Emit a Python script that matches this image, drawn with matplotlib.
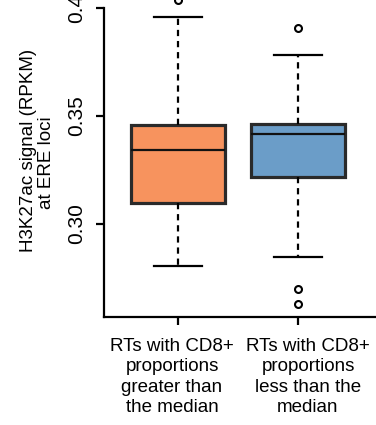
import matplotlib
matplotlib.use("Agg")
from matplotlib import pyplot as plt
from matplotlib.ticker import FixedLocator, FixedFormatter
from matplotlib.transforms import ScaledTranslation

plt.rcParams['font.family'] = ['Liberation Sans', 'DejaVu Sans']
plt.rcParams['lines.scale_dashes'] = False

groups = ["RTs with CD8+\nproportions\ngreater than\nthe median",
          "RTs with CD8+\nproportions\nless than the\nmedian"]
box_colors = ["#F7935E", "#6B9DC8"]

q1 = [0.3097, 0.3218]
med = [0.3343, 0.3418]
q3 = [0.3458, 0.3463]
whislo = [0.2806, 0.2847]
whishi = [0.3958, 0.3782]
fliers = [[0.4035], [0.3907, 0.2699, 0.2630]]

ytick_vals = [0.30, 0.35, 0.40]
ytick_labels = ["0.30", "0.35", "0.4"]

stats = []
for i in range(len(groups)):
    stats.append({"q1": q1[i], "med": med[i], "q3": q3[i],
                  "whislo": whislo[i], "whishi": whishi[i],
                  "fliers": fliers[i]})

fig = plt.figure(figsize=(3.76, 4.25), dpi=100)
ax = fig.add_axes([104 / 376, 1 - 317 / 425, 1 - 104 / 376, 317 / 425])

bp = ax.bxp(stats, positions=[1, 2], widths=0.79, patch_artist=True,
            showfliers=True,
            boxprops=dict(edgecolor="#2a2a2a", linewidth=2.3),
            medianprops=dict(color="#111111", linewidth=1.6),
            whiskerprops=dict(color="black", linewidth=1.6, linestyle=(0, (4.5, 3.5))),
            capprops=dict(color="black", linewidth=1.6),
            flierprops=dict(marker="o", markerfacecolor="none", markeredgecolor="black",
                            markersize=5, markeredgewidth=1.5))
for patch, c in zip(bp["boxes"], box_colors):
    patch.set_facecolor(c)
for cap in bp["caps"]:
    x = cap.get_xdata()
    mid = (x[0] + x[1]) / 2
    cap.set_xdata([mid - 0.2, mid + 0.2])

ax.set_xlim(1 - 74 / 120, 2 + 78 / 120)
ax.set_ylim(0.2569, 0.4037)

ax.spines["top"].set_visible(False)
ax.spines["right"].set_visible(False)
ax.spines["left"].set_linewidth(1.6)
ax.spines["bottom"].set_linewidth(1.6)
ax.spines["left"].set_bounds(0.2569, 0.40)

ax.yaxis.set_major_locator(FixedLocator(ytick_vals))
ax.yaxis.set_major_formatter(FixedFormatter(ytick_labels))
ax.tick_params(axis="y", labelsize=15, length=5.8, width=1.6, pad=7, labelrotation=90)
for lab in ax.get_yticklabels():
    lab.set_va("center")

ax.set_xticks([1, 2])
ax.set_xticklabels(groups, fontsize=13.5, linespacing=1.27, va="top")
ax.tick_params(axis="x", length=5.8, width=1.6, pad=9)
# labels sit a little off their ticks in the original
for lab, dx in zip(ax.get_xticklabels(), [-6, 10]):
    lab.set_transform(lab.get_transform() + ScaledTranslation(dx / 100, 0, fig.dpi_scale_trans))

fig.text(33 / 376, 1 - 150 / 425, "H3K27ac signal (RPKM)", fontsize=13.5,
         rotation=90, ha="center", va="baseline", rotation_mode="anchor")
fig.text(51 / 376, 1 - 163 / 425, "at ERE loci", fontsize=13.5,
         rotation=90, ha="center", va="baseline", rotation_mode="anchor")

fig.savefig("out.png", dpi=100)
